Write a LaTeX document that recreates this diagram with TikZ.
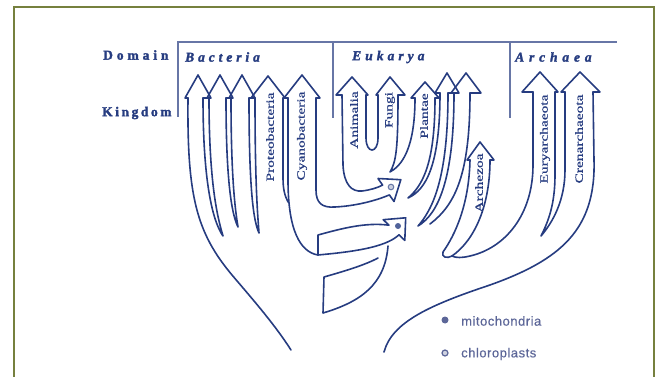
\documentclass[tikz,border=0pt]{standalone}
\usepackage{fontspec}
\setmainfont{Liberation Serif}
\newfontfamily\headfont{Liberation Serif}[BoldFeatures={FakeBold=2}, BoldItalicFeatures={FakeBold=2}]
\newfontfamily\taxonfont{Liberation Serif}[FakeBold=0.6]
\newfontfamily\legendfont{Liberation Sans}[LetterSpace=4, FakeBold=0.4]
\usepackage{xcolor}
\usepackage{tikz}

\definecolor{treeblue}{RGB}{38,60,128}
\definecolor{legendblue}{RGB}{92,102,152}
\definecolor{frameolive}{RGB}{118,128,62}
\newcommand{\wide}[1]{\scalebox{1.4}[1]{#1}}

\begin{document}
\begin{tikzpicture}[x=1pt, y=-1pt,
  frame/.style={draw=frameolive, line width=2pt},
  rule/.style={draw=treeblue!70, line width=1.5pt},
  edge/.style={draw=treeblue, line width=1.6pt, line join=round, line cap=round},
  rank/.style={text=treeblue, anchor=west, inner sep=0pt, font=\headfont\bfseries\fontsize{13.5}{13.5}\selectfont},
  domainlbl/.style={rank, font=\headfont\bfseries\itshape\fontsize{13.5}{13.5}\selectfont},
  taxon/.style={rotate=90, text=treeblue, inner sep=0pt, font=\taxonfont\fontsize{11}{11}\selectfont},
  legend/.style={text=legendblue, anchor=west, inner sep=0pt, font=\legendfont\fontsize{13}{13}\selectfont}
]
\useasboundingbox (0,0) rectangle (659,377);
\draw[frame] (14,377) -- (14,7) -- (654,7) -- (654,377);

% ranks and domains
\draw[rule] (178,117) -- (178,42) -- (617,42);
\draw[rule] (333,42) -- (333,118);
\draw[rule] (510,42) -- (510,118);
\node[rank] (domain) at (103,55) {\addfontfeatures{LetterSpace=29}Domain};
\node[rank] (kingdom) at (102,113) {\addfontfeatures{LetterSpace=19}Kingdom};
\node[domainlbl] (bacteria) at (185,57) {\addfontfeatures{LetterSpace=29}Bacteria};
\node[domainlbl] (eukarya) at (352,57) {\addfontfeatures{LetterSpace=30}Eukarya};
\node[domainlbl] (archaea) at (515,57) {\addfontfeatures{LetterSpace=36}Archaea};

% Bacteria
\draw[edge] (188,98) -- (185,98) -- (198,75) -- (211,98) -- (203,98);
\draw[edge] (209,98) -- (207,98) -- (220,75) -- (233,98) -- (226,98);
\draw[edge] (231,98) -- (229,98) -- (242,75) -- (255,98) -- (249,98);
\draw[edge] (255,98) -- (251,98) -- (268,76) -- (285,98) -- (283,98);
\draw[edge] (288,98) -- (284,98) -- (302,75) -- (320,98) -- (316,98);
\draw[edge] (188,98) .. controls (187,195) and (196,232) .. (232,275) .. controls (255,302) and (275,325) .. (291,350);
\draw[edge] (203,98) .. controls (203,196) and (216,226) .. (223,236) .. controls (219,222) and (209,190) .. (209,98);
\draw[edge] (226,98) .. controls (226,190) and (233,217) .. (238,227) .. controls (236,214) and (231,185) .. (231,98);
\draw[edge] (249,98) .. controls (249,195) and (254,222) .. (259,233) .. controls (258,218) and (255,190) .. (255,98);
\draw[edge] (283,98) -- (283,178) .. controls (283,190) and (285,196) .. (288,202);
\draw[edge] (288,98) -- (288,180) .. controls (288,230) and (300,252) .. (318,255);

% Eukarya
\draw[edge] (342,95) -- (336,95) -- (352,77) -- (368,95) -- (366,95);
\draw[edge] (378,95) -- (376,95) -- (390,77) -- (405,95) -- (398,95);
\draw[edge] (415,98) -- (411,98) -- (425,82) -- (439,98) -- (435,98);
\draw[edge] (440,93) -- (435,93) -- (447,73) -- (459,93) -- (448,93);
\draw[edge] (454,93) -- (451,93) -- (466,73) -- (481,93) -- (470,93);
\draw[edge] (470,160) -- (467,160) -- (480,142) -- (494,160) -- (490,160);
\draw[edge] (342,95) -- (343,165) .. controls (344,185) and (352,192) .. (362,191) .. controls (370,190) and (377,188) .. (382.6,185.1) -- (378,178.5) -- (400.8,179.7) -- (394,201.5) -- (389.4,194.9) .. controls (375,201) and (355,206) .. (335,207) .. controls (322,208) and (316,203) .. (316,190) -- (316,98);
\draw[edge] (366,95) -- (366,138) .. controls (366,154) and (378,154) .. (378,138) -- (378,95);
\draw[edge] (398,95) .. controls (398,150) and (396,162) .. (390,172) .. controls (401,166) and (415,150) .. (415,98);
\draw[edge] (435,98) .. controls (435,165) and (422,186) .. (408,198) .. controls (426,190) and (440,165) .. (440,93);
\draw[edge] (448,93) .. controls (448,180) and (432,210) .. (418,226) .. controls (438,214) and (454,180) .. (454,93);
\draw[edge] (470,93) .. controls (470,175) and (455,205) .. (430,224);
\draw[edge] (470,160) .. controls (469,205) and (455,235) .. (443,252) .. controls (441,257) and (447,259) .. (452,256) .. controls (475,240) and (490,205) .. (490,160);

% mitochondrion and stem
\filldraw[edge, fill=white] (318,235) .. controls (340,229) and (365,222) .. (389,225.2) -- (383.2,219.7) -- (405.7,217.8) -- (404.8,240.4) -- (399,234.8) .. controls (385,248) and (350,252) .. (318,255) -- cycle;
\draw[edge] (378,258) .. controls (365,265) and (345,271) .. (324,277) -- (323,313) .. controls (360,302) and (385,285) .. (388,246);
\fill[treeblue!80] (398,226) circle (3pt);
\draw[treeblue!70, line width=1pt, fill=treeblue!25] (391,187) circle (2.8pt);

% Archaea
\draw[edge] (533,92) -- (522,92) -- (540,72) -- (558,92) -- (555,92);
\draw[edge] (565,92) -- (561,92) -- (580,72) -- (600,92) -- (593,92);
\draw[edge] (533,92) -- (533,165) .. controls (533,215) and (505,248) .. (470,256) .. controls (462,258) and (456,258) .. (452,256);
\draw[edge] (555,92) -- (555,175) .. controls (555,205) and (548,222) .. (541,236) .. controls (553,222) and (565,200) .. (565,170) -- (565,92);
\draw[edge] (593,92) -- (594,160) .. controls (596,230) and (560,260) .. (490,285) .. controls (430,305) and (392,322) .. (384,352);

% kingdoms
\node[taxon] (proteo) at (270,137) {\wide{Proteobacteria}};
\node[taxon] (cyano) at (302,136) {\wide{Cyanobacteria}};
\node[taxon] (animalia) at (354,120) {\wide{Animalia}};
\node[taxon] (fungi) at (390,110) {\wide{Fungi}};
\node[taxon] (plantae) at (424,116) {\wide{Plantae}};
\node[taxon] (archezoa) at (479,183) {\wide{Archezoa}};
\node[taxon] (eury) at (545,139) {\wide{Euryarchaeota}};
\node[taxon] (cren) at (579,139) {\wide{Crenarchaeota}};

% legend
\fill[legendblue] (445,320) circle (3.5pt);
\draw[legendblue, line width=1.2pt, fill=legendblue!30] (445,353) circle (3pt);
\node[legend] (mito) at (461,321) {mitochondria};
\node[legend] (chloro) at (461,354) {chloroplasts};
\end{tikzpicture}
\end{document}
